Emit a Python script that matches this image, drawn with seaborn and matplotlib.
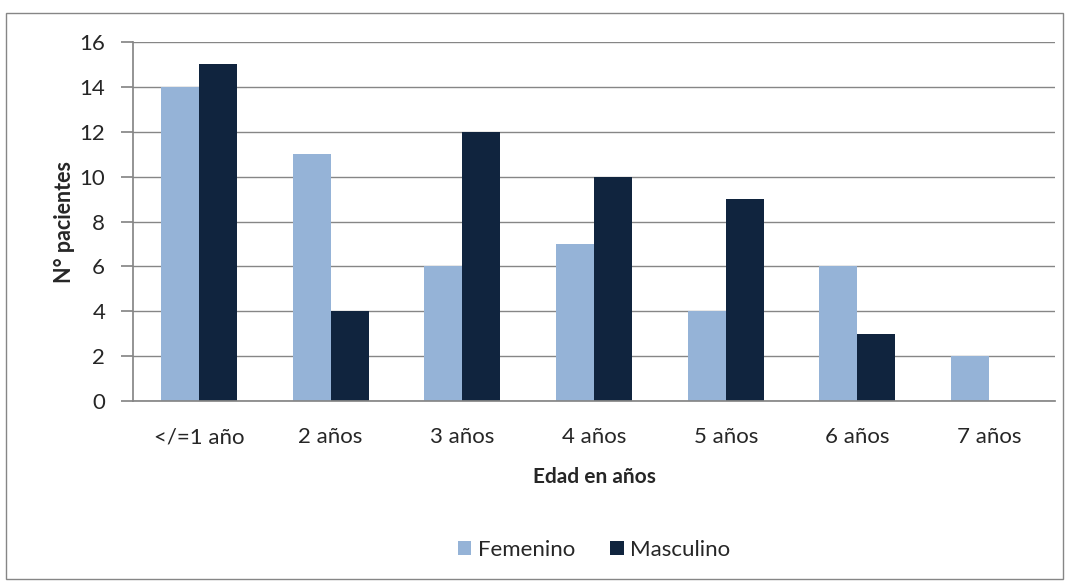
import matplotlib
matplotlib.use("Agg")
import matplotlib.pyplot as plt
import seaborn as sns
import pandas as pd
from matplotlib.patches import Rectangle

categories = ["</=1 año", "2 años", "3 años", "4 años", "5 años", "6 años", "7 años"]
femenino = [14, 11, 6, 7, 4, 6, 2]
masculino = [15, 4, 12, 10, 9, 3, 0]
series_names = ["Femenino", "Masculino"]
colors = ["#95B3D7", "#10243E"]

df = pd.DataFrame({
    "Edad": categories * 2,
    "Sexo": [series_names[0]] * len(categories) + [series_names[1]] * len(categories),
    "N": femenino + masculino,
})

sns.set_theme(style="white")
plt.rcParams["font.family"] = ["Lato", "DejaVu Sans"]

fig = plt.figure(figsize=(10.7, 5.81), dpi=100)
ax = fig.add_axes([0.1243, 0.3098, 0.8617, 0.6179])

sns.barplot(data=df, x="Edad", y="N", hue="Sexo", palette=colors, width=0.577,
            gap=0, ax=ax, saturation=1, legend=True, linewidth=0)

ax.set_ylim(0, 16)
ax.set_yticks(range(0, 17, 2))
ax.set_xlim(-0.5, len(categories) - 0.5)
ax.yaxis.grid(True, color="#868686", linewidth=1)
ax.set_axisbelow(True)
for s in ["top", "right"]:
    ax.spines[s].set_visible(False)
ax.spines["left"].set_color("#868686")
ax.spines["bottom"].set_color("#868686")
ax.tick_params(axis="y", length=9, color="#868686", labelsize=16, direction="out", left=True, pad=11)
ax.tick_params(axis="x", length=0, labelsize=16, pad=19)
ax.set_xlabel("Edad en años", fontsize=15, fontweight="bold", labelpad=14)
ax.set_ylabel("N° pacientes", fontsize=15.5, fontweight="bold", labelpad=3)

handles, labels = ax.get_legend_handles_labels()
ax.legend(handles, labels, loc="center", bbox_to_anchor=(0.5, -0.415), ncol=2,
          frameon=False, fontsize=16, handlelength=0.6, handleheight=0.6,
          columnspacing=1.6, handletextpad=0.3)

fig.patches.append(Rectangle((6 / 1070, 2 / 581), 1057 / 1070, 566 / 581,
                             transform=fig.transFigure, fill=False,
                             edgecolor="#868686", linewidth=1))

fig.savefig("out.png", dpi=100)
